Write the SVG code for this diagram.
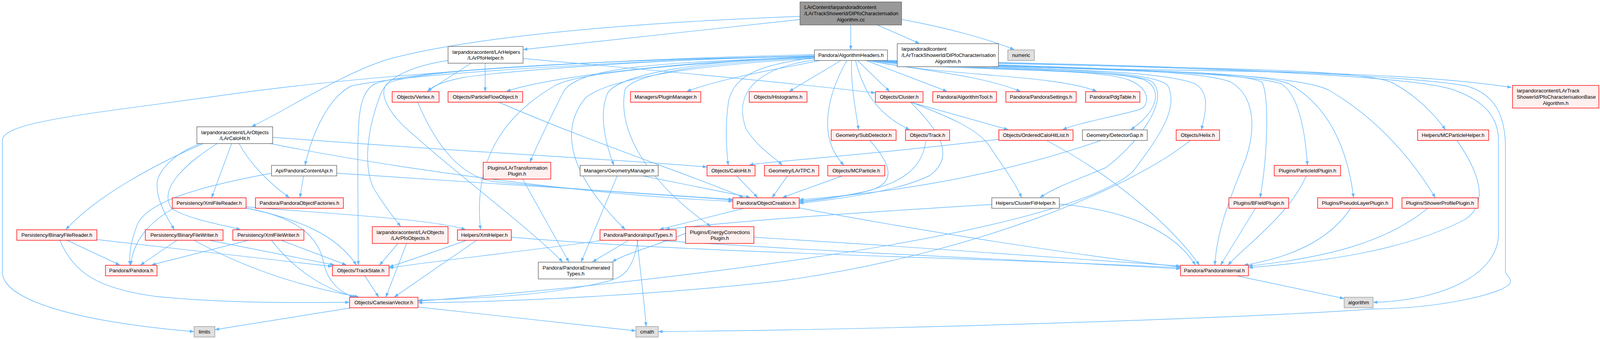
<svg xmlns="http://www.w3.org/2000/svg" width="4187" height="869" viewBox="0 0 4187 869">
<defs>
<style>
.nd rect{stroke-width:1.4}
.w rect{fill:#ffffff;stroke:#666666}
.r rect{fill:#fff0f0;stroke:#ff0000}
.g rect{fill:#e0e0e0;stroke:#999999}
.k rect{fill:#999999;stroke:#666666}
text{font-family:"Liberation Sans",Arial,sans-serif;font-size:13px;fill:#000}
.m{text-anchor:middle}
.e path{fill:none;stroke:#63b8ff;stroke-width:1.4;marker-end:url(#a)}
</style>
<marker id="a" markerUnits="userSpaceOnUse" markerWidth="11" markerHeight="8" refX="10" refY="3.75" orient="auto">
<path d="M0,0 L10,3.75 L0,7.5 Z" fill="#63b8ff" stroke="#63b8ff" stroke-width="0.8"/>
</marker>
</defs>
<rect width="4187" height="869" fill="#ffffff"/>
<g id="edges" class="e">
<path d="M2178,64 L2178,127"/>
<path d="M2246,64 L2353,111"/>
<path d="M2309,50 C2420,70 2530,100 2596,127"/>
<path d="M2048,50 L1340,127"/>
<path d="M2048,42 C1700,55 1250,85 1000,150 C880,185 720,290 645,324"/>
<path d="M2556,170 C3000,185 3550,175 3869,224"/>
<path d="M2085,143 C1700,150 1250,185 1180,200 C1130,210 1105,222 1096,234"/>
<path d="M2085,145 C1700,160 1400,200 1297,234"/>
<path d="M2100,155 C2000,175 1850,200 1759,234"/>
<path d="M2153,155 L2021,234"/>
<path d="M2195,155 L2277,234"/>
<path d="M2217,155 L2424,234"/>
<path d="M2220,155 C2350,180 2500,190 2612,234"/>
<path d="M2225,155 C2400,195 2700,190 2807,234"/>
<path d="M2180,155 C2178,220 2190,280 2198,332"/>
<path d="M2190,155 C2210,230 2240,290 2328,332"/>
<path d="M2168,155 C2120,240 2090,350 2160,423"/>
<path d="M2085,148 C1950,165 1880,190 1865,260 C1855,330 1860,380 1864,423"/>
<path d="M2090,153 C1920,175 1880,250 1910,330 C1940,380 1980,400 2002,423"/>
<path d="M2085,145 C1800,155 1580,190 1555,240 C1530,300 1555,380 1571,423"/>
<path d="M2085,146 C1700,160 1470,170 1440,240 C1410,300 1380,360 1357,415"/>
<path d="M2085,143 C1500,160 1050,190 900,220 C840,250 800,340 781,423"/>
<path d="M2085,144 C1500,155 1050,180 960,215 C920,235 916,300 916,400 L917,679"/>
<path d="M2085,140 C1600,150 1000,185 600,240 C250,290 6,310 6,360 L6,697 C6,770 200,825 496,850"/>
<path d="M2085,146 C1700,165 1470,190 1420,220 C1300,290 1210,400 1230,588"/>
<path d="M2085,150 C1800,165 1560,200 1500,250 C1440,320 1440,430 1600,588"/>
<path d="M2085,148 C1800,160 1620,190 1600,230 C1580,330 1650,460 1819,580"/>
<path d="M2085,143 C1500,155 1050,180 990,215 C970,240 990,290 1064,350 C1150,430 1350,580 1440,671"/>
<path d="M2230,155 C2400,185 2800,170 2890,205 C2950,230 2940,270 2920,280 C2850,300 2760,315 2721,332"/>
<path d="M2232,155 C2420,180 2850,175 2930,205 C2980,230 2960,290 2895,332"/>
<path d="M2235,155 C2450,180 2900,175 2950,210 C3000,260 2900,380 2830,430 C2760,460 2700,480 2663,506"/>
<path d="M2240,155 C2500,180 2950,170 2990,220 C3020,280 2960,360 2900,440 C2700,620 1500,740 1071,772"/>
<path d="M2245,155 C2500,180 2950,170 3060,215 C3100,240 3085,290 3076,332"/>
<path d="M2250,155 C2600,180 3050,170 3150,210 C3220,250 3215,350 3180,430 C3140,530 3115,600 3110,679"/>
<path d="M2255,155 C2700,180 3150,175 3230,210 C3250,240 3245,400 3226,506"/>
<path d="M2258,155 C2700,180 3180,180 3280,215 C3320,240 3340,320 3347,423"/>
<path d="M2260,155 C2800,180 3220,180 3300,215 C3400,270 3450,380 3465,506"/>
<path d="M2262,155 C2900,180 3300,185 3400,230 C3520,300 3610,400 3674,506"/>
<path d="M2265,155 C2900,175 3450,170 3560,210 C3620,240 3670,290 3700,332"/>
<path d="M2268,155 C3000,170 3600,190 3720,230 C3800,258 3836,300 3836,360 L3836,600 C3836,700 3700,770 3516,775"/>
<path d="M2270,155 C3000,165 3650,195 3760,222 C3830,245 3854,300 3854,380 L3854,697 C3854,705 3870,712 3866,725 C3855,750 3700,790 3515,792 C3200,815 2300,845 1686,850"/>
<path d="M1206,162 L1094,234"/>
<path d="M1242,162 L1242,234"/>
<path d="M1339,150 C1700,182 2000,210 2240,238"/>
<path d="M1147,155 C1050,170 990,200 975,240 C940,330 930,420 955,480 C985,530 1010,560 1025,580"/>
<path d="M1069,262 C1120,380 1180,450 1260,465 C1500,490 1800,505 1875,513"/>
<path d="M1277,262 C1500,360 1800,460 1903,506"/>
<path d="M698,352 C1200,390 1600,410 1809,428"/>
<path d="M692,368 C1000,430 1500,500 1875,516"/>
<path d="M612,368 C640,420 690,470 740,506"/>
<path d="M593,368 L542,506"/>
<path d="M520,368 C400,420 250,500 169,588"/>
<path d="M515,367 C440,395 405,440 402,470 C400,510 425,555 446,588"/>
<path d="M556,368 C490,410 400,480 440,535 C480,560 560,575 615,588"/>
<path d="M695,444 C500,480 370,520 350,580 C335,620 330,650 333,679"/>
<path d="M777,451 L768,506"/>
<path d="M862,444 C1300,470 1700,500 1875,511"/>
<path d="M446,533 C380,570 340,620 335,679"/>
<path d="M628,533 C760,560 860,600 912,679"/>
<path d="M628,533 C780,560 820,620 830,680 C840,720 870,750 905,761"/>
<path d="M630,530 C800,545 1100,560 1191,588"/>
<path d="M172,616 L306,679"/>
<path d="M247,614 L850,683"/>
<path d="M153,616 C190,700 250,740 400,760 C600,780 800,775 894,775"/>
<path d="M453,616 L360,679"/>
<path d="M536,616 L855,679"/>
<path d="M497,616 C650,700 800,740 918,761"/>
<path d="M635,616 L389,679"/>
<path d="M720,616 L886,679"/>
<path d="M695,616 C760,700 840,745 912,761"/>
<path d="M1019,624 L972,679"/>
<path d="M1041,624 L988,761"/>
<path d="M1194,616 C1100,650 1040,670 997,684"/>
<path d="M1220,616 L1010,761"/>
<path d="M1309,608 C1800,650 2500,660 3021,686"/>
<path d="M934,707 L969,761"/>
<path d="M899,789 L551,845"/>
<path d="M1070,787 L1627,848"/>
<path d="M1631,616 C1640,700 1650,780 1654,836"/>
<path d="M1633,616 C1620,700 1590,710 1560,720 C1400,760 1200,765 1071,770"/>
<path d="M1609,616 L1517,671"/>
<path d="M1536,617 C1300,650 1100,670 997,687"/>
<path d="M1695,617 C2200,650 2700,670 3021,689"/>
<path d="M1338,459 L1456,671"/>
<path d="M1580,451 L1488,671"/>
<path d="M1646,451 L1920,506"/>
<path d="M1755,598 C1680,630 1600,650 1568,671"/>
<path d="M1930,608 C2300,630 2700,660 3021,682"/>
<path d="M1886,451 L1939,506"/>
<path d="M2016,451 L1977,506"/>
<path d="M2156,451 L2004,506"/>
<path d="M2227,360 C2280,420 2300,470 2220,490 C2150,505 2100,512 2047,515"/>
<path d="M2370,362 C2360,440 2300,470 2200,495 C2120,510 2080,515 2047,518"/>
<path d="M2331,262 C2400,330 2450,400 2380,450 C2300,490 2150,510 2047,521"/>
<path d="M2331,262 L2580,332"/>
<path d="M2333,262 C2430,300 2500,330 2530,370 C2570,430 2600,470 2615,506"/>
<path d="M2557,357 C2200,400 1950,415 1919,423"/>
<path d="M2679,360 C2850,450 3000,580 3070,679"/>
<path d="M2819,360 C2500,470 2200,500 2047,512"/>
<path d="M2539,524 C2200,545 1900,565 1704,588"/>
<path d="M2712,523 C2900,540 3010,600 3060,679"/>
<path d="M1908,533 L1689,588"/>
<path d="M2046,533 C2400,600 2800,660 3021,684"/>
<path d="M3047,360 C2900,480 2500,650 2000,720 C1600,765 1200,775 1071,776"/>
<path d="M3730,360 C3785,440 3815,520 3750,563 C3600,640 3400,670 3197,686"/>
<path d="M3344,451 C3300,550 3200,620 3144,679"/>
<path d="M3214,534 L3125,679"/>
<path d="M3458,534 C3400,620 3300,660 3185,680"/>
<path d="M3655,534 C3550,620 3400,660 3196,682"/>
<path d="M3166,707 L3440,765"/>
</g>
<g id="n_root" class="nd k"><rect x="2048" y="5" width="260" height="59"/><text x="2059" y="23">LArContent/larpandoradlcontent</text><text x="2059" y="39">/LArTrackShowerId/DlPfoCharacterisation</text><text class="m" x="2178" y="55">Algorithm.cc</text></g>
<g id="n_algh" class="nd w"><rect x="2085" y="128" width="187" height="27"/><text class="m" x="2178.5" y="146">Pandora/AlgorithmHeaders.h</text></g>
<g id="n_dlh" class="nd w"><rect x="2297" y="112" width="259" height="59"/><text x="2308" y="130">larpandoradlcontent</text><text x="2308" y="146">/LArTrackShowerId/DlPfoCharacterisation</text><text class="m" x="2426.5" y="162">Algorithm.h</text></g>
<g id="n_numeric" class="nd g"><rect x="2580" y="128" width="68" height="27"/><text class="m" x="2614" y="146">numeric</text></g>
<g id="n_pfohelper" class="nd w"><rect x="1147" y="119" width="192" height="43"/><text x="1158" y="137.5">larpandoracontent/LArHelpers</text><text class="m" x="1243" y="153">/LArPfoHelper.h</text></g>
<g id="n_pfobase" class="nd r"><rect x="3872" y="219" width="221" height="58"/><text x="3883" y="237">larpandoracontent/LArTrack</text><text x="3883" y="253">ShowerId/PfoCharacterisationBase</text><text class="m" x="3982.5" y="269">Algorithm.h</text></g>
<g id="n_vertex" class="nd r"><rect x="1004" y="235" width="120" height="27"/><text class="m" x="1064" y="253">Objects/Vertex.h</text></g>
<g id="n_pfo" class="nd r"><rect x="1147" y="235" width="191" height="27"/><text class="m" x="1242.5" y="253">Objects/ParticleFlowObject.h</text></g>
<g id="n_plugmgr" class="nd r"><rect x="1614" y="235" width="180" height="27"/><text class="m" x="1704" y="253">Managers/PluginManager.h</text></g>
<g id="n_hist" class="nd r"><rect x="1918" y="235" width="148" height="27"/><text class="m" x="1992" y="253">Objects/Histograms.h</text></g>
<g id="n_cluster" class="nd r"><rect x="2241" y="235" width="122" height="27"/><text class="m" x="2302" y="253">Objects/Cluster.h</text></g>
<g id="n_algtool" class="nd r"><rect x="2388" y="235" width="163" height="27"/><text class="m" x="2469.5" y="253">Pandora/AlgorithmTool.h</text></g>
<g id="n_settings" class="nd r"><rect x="2575" y="235" width="180" height="27"/><text class="m" x="2665" y="253">Pandora/PandoraSettings.h</text></g>
<g id="n_pdg" class="nd r"><rect x="2779" y="235" width="139" height="27"/><text class="m" x="2848.5" y="253">Pandora/PdgTable.h</text></g>
<g id="n_larcalohit" class="nd w"><rect x="504" y="325" width="194" height="43"/><text x="515" y="343.5">larpandoracontent/LArObjects</text><text class="m" x="601" y="359">/LArCaloHit.h</text></g>
<g id="n_subdet" class="nd r"><rect x="2128" y="333" width="166" height="27"/><text class="m" x="2211" y="351">Geometry/SubDetector.h</text></g>
<g id="n_track" class="nd r"><rect x="2318" y="333" width="113" height="27"/><text class="m" x="2374.5" y="351">Objects/Track.h</text></g>
<g id="n_ochl" class="nd r"><rect x="2557" y="333" width="190" height="27"/><text class="m" x="2652" y="351">Objects/OrderedCaloHitList.h</text></g>
<g id="n_detgap" class="nd w"><rect x="2771" y="333" width="166" height="27"/><text class="m" x="2854" y="351">Geometry/DetectorGap.h</text></g>
<g id="n_helix" class="nd r"><rect x="3011" y="333" width="111" height="27"/><text class="m" x="3066.5" y="351">Objects/Helix.h</text></g>
<g id="n_mcph" class="nd r"><rect x="3629" y="333" width="182" height="27"/><text class="m" x="3720" y="351">Helpers/MCParticleHelper.h</text></g>
<g id="n_api" class="nd w"><rect x="695" y="424" width="167" height="27"/><text class="m" x="778.5" y="442">Api/PandoraContentApi.h</text></g>
<g id="n_lartrans" class="nd r"><rect x="1237" y="416" width="173" height="43"/><text x="1248" y="434.5">Plugins/LArTransformation</text><text class="m" x="1323.5" y="450">Plugin.h</text></g>
<g id="n_geomgr" class="nd w"><rect x="1485" y="424" width="200" height="27"/><text class="m" x="1585" y="442">Managers/GeometryManager.h</text></g>
<g id="n_calohit" class="nd r"><rect x="1810" y="424" width="123" height="27"/><text class="m" x="1871.5" y="442">Objects/CaloHit.h</text></g>
<g id="n_lartpc" class="nd r"><rect x="1957" y="424" width="139" height="27"/><text class="m" x="2026.5" y="442">Geometry/LArTPC.h</text></g>
<g id="n_mcp" class="nd r"><rect x="2119" y="424" width="146" height="27"/><text class="m" x="2192" y="442">Objects/MCParticle.h</text></g>
<g id="n_pidplug" class="nd r"><rect x="3262" y="424" width="170" height="27"/><text class="m" x="3347" y="442">Plugins/ParticleIdPlugin.h</text></g>
<g id="n_xmlreader" class="nd r"><rect x="441" y="507" width="189" height="27"/><text class="m" x="535.5" y="525">Persistency/XmlFileReader.h</text></g>
<g id="n_factories" class="nd r"><rect x="654" y="507" width="225" height="27"/><text class="m" x="766.5" y="525">Pandora/PandoraObjectFactories.h</text></g>
<g id="n_objcreate" class="nd r"><rect x="1876" y="507" width="170" height="27"/><text class="m" x="1961" y="525">Pandora/ObjectCreation.h</text></g>
<g id="n_cfh" class="nd w"><rect x="2539" y="507" width="173" height="27"/><text class="m" x="2625.5" y="525">Helpers/ClusterFitHelper.h</text></g>
<g id="n_bfield" class="nd r"><rect x="3146" y="507" width="153" height="27"/><text class="m" x="3222.5" y="525">Plugins/BFieldPlugin.h</text></g>
<g id="n_pseudo" class="nd r"><rect x="3373" y="507" width="192" height="27"/><text class="m" x="3469" y="525">Plugins/PseudoLayerPlugin.h</text></g>
<g id="n_shower" class="nd r"><rect x="3589" y="507" width="195" height="27"/><text class="m" x="3686.5" y="525">Plugins/ShowerProfilePlugin.h</text></g>
<g id="n_binreader" class="nd r"><rect x="43" y="589" width="205" height="27"/><text class="m" x="145.5" y="607">Persistency/BinaryFileReader.h</text></g>
<g id="n_binwriter" class="nd r"><rect x="372" y="589" width="199" height="27"/><text class="m" x="471.5" y="607">Persistency/BinaryFileWriter.h</text></g>
<g id="n_xmlwriter" class="nd r"><rect x="596" y="589" width="182" height="27"/><text class="m" x="687" y="607">Persistency/XmlFileWriter.h</text></g>
<g id="n_pfoobjects" class="nd r"><rect x="953" y="581" width="194" height="43"/><text x="964" y="599.5">larpandoracontent/LArObjects</text><text class="m" x="1050" y="615">/LArPfoObjects.h</text></g>
<g id="n_xmlhelper" class="nd r"><rect x="1171" y="589" width="138" height="27"/><text class="m" x="1240" y="607">Helpers/XmlHelper.h</text></g>
<g id="n_inputtypes" class="nd r"><rect x="1536" y="589" width="195" height="27"/><text class="m" x="1633.5" y="607">Pandora/PandoraInputTypes.h</text></g>
<g id="n_energy" class="nd r"><rect x="1755" y="581" width="175" height="43"/><text x="1766" y="599.5">Plugins/EnergyCorrections</text><text class="m" x="1842.5" y="615">Plugin.h</text></g>
<g id="n_pandora" class="nd r"><rect x="270" y="680" width="132" height="27"/><text class="m" x="336" y="698">Pandora/Pandora.h</text></g>
<g id="n_trackstate" class="nd r"><rect x="851" y="680" width="145" height="27"/><text class="m" x="923.5" y="698">Objects/TrackState.h</text></g>
<g id="n_enum" class="nd w"><rect x="1378" y="672" width="191" height="43"/><text x="1389" y="690.5">Pandora/PandoraEnumerated</text><text class="m" x="1473.5" y="706">Types.h</text></g>
<g id="n_internal" class="nd r"><rect x="3022" y="680" width="174" height="27"/><text class="m" x="3109" y="698">Pandora/PandoraInternal.h</text></g>
<g id="n_cartesian" class="nd r"><rect x="895" y="762" width="175" height="27"/><text class="m" x="982.5" y="780">Objects/CartesianVector.h</text></g>
<g id="n_algorithm" class="nd g"><rect x="3441" y="762" width="74" height="27"/><text class="m" x="3478" y="780">algorithm</text></g>
<g id="n_limits" class="nd g"><rect x="497" y="837" width="53" height="27"/><text class="m" x="523.5" y="855">limits</text></g>
<g id="n_cmath" class="nd g"><rect x="1628" y="837" width="57" height="27"/><text class="m" x="1656.5" y="855">cmath</text></g>
</svg>
